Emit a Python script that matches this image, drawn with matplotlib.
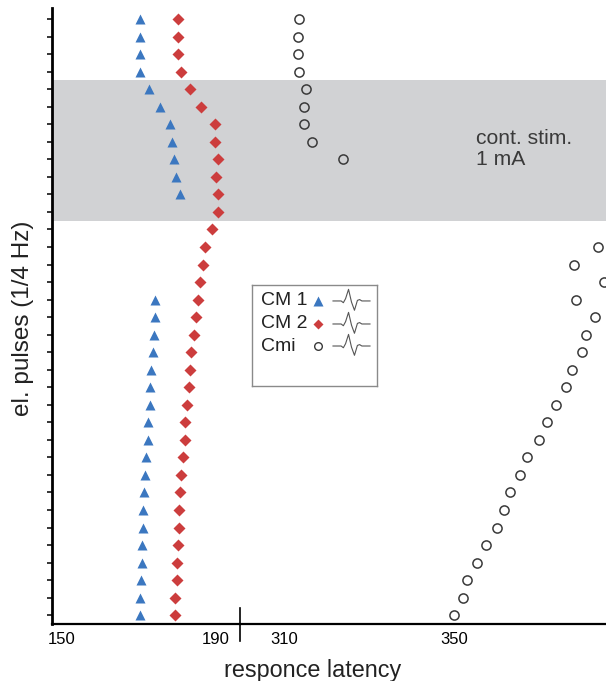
import numpy as np
import matplotlib
matplotlib.use('Agg')
import matplotlib.pyplot as plt

plt.rcParams['font.family'] = ['Liberation Sans', 'DejaVu Sans']

nan = np.nan

# latencies per electrical pulse (row 0 = first pulse, at the top)
cm1 = [170.3, 170.3, 170.3, 170.2, 172.7, 175.5, 178.1, 178.6, 179.0, 179.7, 180.6,
       nan, nan, nan, nan, nan,
       174.2, 174.2, 173.9, 173.7, 173.2, 172.9, 172.8, 172.4, 172.2, 171.7,
       171.6, 171.2, 171.0, 171.0, 170.8, 170.7, 170.5, 170.3, 170.3]
cm2 = [180.2, 180.2, 180.1, 180.8, 183.2, 186.1, 189.7, 189.7, 190.6, 190.0, 190.4,
       190.6, 189.0, 187.2, 186.5, 185.8, 185.2, 184.7, 184.2, 183.6, 183.2,
       182.9, 182.4, 182.0, 181.8, 181.5, 180.9, 180.6, 180.4, 180.3, 180.1,
       179.9, 179.9, 179.4, 179.4]
cmi = [313.4, 313.3, 313.3, 313.4, 315.2, 314.6, 314.8, 316.5, 323.8,
       nan, nan, nan, nan,
       384.0, 378.3, 385.5, 378.9, 383.2, 381.2, 380.2, 377.8, 376.5, 374.2,
       372.0, 370.2, 367.2, 365.6, 363.3, 361.9, 360.2, 357.6, 355.4, 353.1,
       352.3, 350.1]
pulses = np.arange(len(cm2))

stim_start, stim_end = 3.5, 11.5   # continuous stimulation period

labels = ['CM 1', 'CM 2', 'Cmi']
# small response waveform icon for the legend
wave_x = [0.0, 0.22, 0.28, 0.34, 0.42, 0.50, 0.58, 0.66, 0.72, 0.78, 1.0]
wave_y = [0.0, 0.0, -0.15, 0.2, 1.0, -0.1, -0.8, 0.05, 0.12, 0.0, 0.0]

blue = '#3b77c0'
red = '#cc3d3d'
band = '#d1d2d4'

fig = plt.figure(figsize=(6.06, 6.81), dpi=100)
ax1 = fig.add_axes([0.0858, 0.0837, 0.3102, 0.9046])
ax2 = fig.add_axes([0.3960, 0.0837, 0.6040, 0.9046], sharey=ax1)

for ax in (ax1, ax2):
    ax.axhspan(stim_start, stim_end, color=band, lw=0, zorder=0)
    ax.spines['top'].set_visible(False)
    ax.spines['right'].set_visible(False)
    ax.spines['bottom'].set_linewidth(1.6)
    ax.tick_params(axis='x', length=0, pad=6, labelsize=12)

ax1.plot(cm1, pulses, ls='none', marker='^', ms=7.3, color=blue, mec='none', clip_on=False)
ax1.plot(cm2, pulses, ls='none', marker='D', ms=6.2, color=red, mec='none', clip_on=False)
ax2.plot(cmi, pulses, ls='none', marker='o', ms=6.6, mfc='none', mec='#3a3a3a', mew=1.1,
         clip_on=False)

ax1.set_xlim(147.4, 196.2)
ax2.set_xlim(299.6, 385.9)
ax1.set_ylim(34.5, -0.63)
ax1.set_xticks([150, 190])
ax2.set_xticks([310, 350])

ax1.spines['left'].set_linewidth(2)
ax1.set_yticks(pulses)
ax1.tick_params(axis='y', length=3.5, width=1.1, labelleft=False)
ax2.spines['left'].set_visible(False)
ax2.tick_params(axis='y', left=False, labelleft=False)

# axis break mark
ax2.plot([0, 0], [-0.028, 0.026], transform=ax2.transAxes, color='black', lw=1.2,
         clip_on=False)

ax2.text(355.3, 7.4, 'cont. stim.\n1 mA', ha='left', va='center', fontsize=15.2,
         color='#3a3a3a', linespacing=1.15)

fig.text(23 / 606, 1 - 318 / 681, 'el. pulses (1/4 Hz)', rotation=90, ha='center',
         va='center', fontsize=17.5, color='#222222')
fig.text(313 / 606, 1 - 671 / 681, 'responce latency', ha='center', va='center',
         fontsize=16.8, color='#222222')

# legend box
lg = fig.add_axes([252 / 606, 1 - 386 / 681, 125 / 606, 101 / 681])
lg.set_xlim(0, 1)
lg.set_ylim(0, 1)
lg.set_xticks([])
lg.set_yticks([])
for s in lg.spines.values():
    s.set_color('#8a8a8a')
    s.set_linewidth(1)
rows_y = [0.842, 0.614, 0.396]
styles = [dict(marker='^', ms=6.5, color=blue, mec='none'),
          dict(marker='D', ms=5.2, color=red, mec='none'),
          dict(marker='o', ms=5.5, mfc='none', mec='#3a3a3a', mew=1)]
for lab, yy, st in zip(labels, rows_y, styles):
    lg.text(0.07, yy, lab, ha='left', va='center', fontsize=14, color='#222222')
    lg.plot([0.53], [yy], ls='none', **st)
    wx = 0.648 + 0.296 * np.array(wave_x)
    wy = yy + 0.115 * np.array(wave_y)
    lg.plot(wx, wy, color='#555555', lw=0.8)

fig.savefig('out.png', dpi=100)
